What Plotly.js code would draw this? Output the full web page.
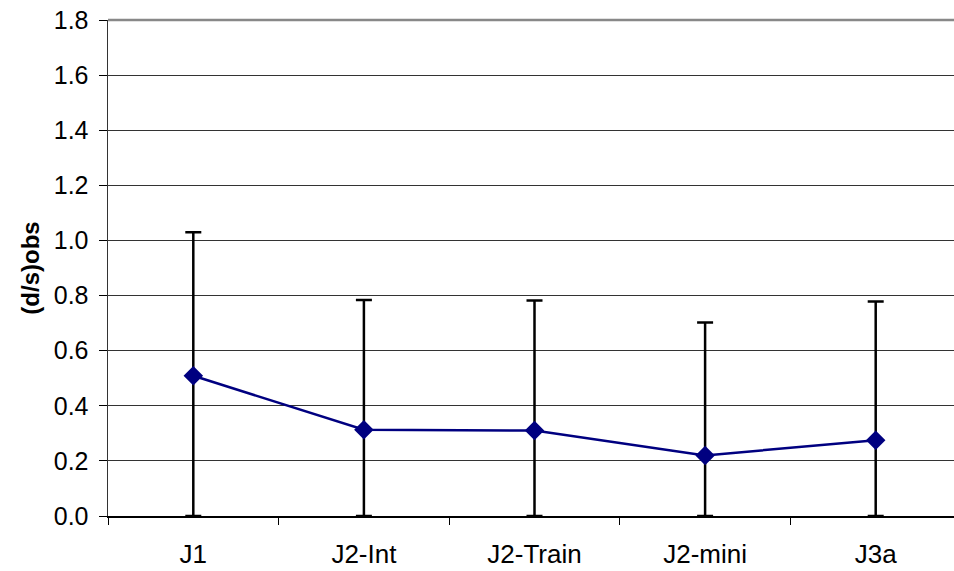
<!DOCTYPE html>
<html>
<head>
<meta charset="utf-8">
<script src="https://cdn.plot.ly/plotly-3.0.1.min.js"></script>
<style>
  html, body { margin: 0; padding: 0; background: #fff; overflow: hidden; }
  #chart { width: 961px; height: 571px; }
</style>
</head>
<body>
<div id="chart"></div>
<script>
// Observed (d/s) per test set, with the upper end of each error bar
const categories = ["J1", "J2-Int", "J2-Train", "J2-mini", "J3a"];
const dsObs = [0.509, 0.313, 0.310, 0.220, 0.275];
const upperBound = [1.030, 0.784, 0.782, 0.702, 0.778];
const yTickValues = [0, 0.2, 0.4, 0.6, 0.8, 1.0, 1.2, 1.4, 1.6, 1.8];

const errPlus = upperBound.map((u, i) => u - dsObs[i]);
const errMinus = dsObs.slice();

const trace = {
  type: "scatter",
  mode: "lines+markers",
  x: categories,
  y: dsObs,
  line: { color: "#000080", width: 2.5 },
  marker: { symbol: "diamond", size: 15, color: "#000080" },
  error_y: {
    type: "data",
    symmetric: false,
    array: errPlus,
    arrayminus: errMinus,
    color: "#000000",
    thickness: 2.5,
    width: 8
  },
  cliponaxis: false,
  showlegend: false
};

const layout = {
  width: 961,
  height: 571,
  margin: { l: 108, r: 0, t: 20, b: 55 },
  paper_bgcolor: "#ffffff",
  plot_bgcolor: "#ffffff",
  font: { family: "Liberation Sans, Arial, sans-serif", size: 25, color: "#000" },
  xaxis: {
    type: "category",
    range: [-0.5, 4.5],
    tickson: "boundaries",
    ticks: "outside",
    ticklen: 7,
    tickcolor: "#000",
    ticklabelstandoff: 14,
    showgrid: false,
    showline: true,
    linecolor: "#000",
    linewidth: 1.5,
    tickfont: { size: 26 },
    zeroline: false
  },
  yaxis: {
    range: [0, 1.8],
    tickvals: yTickValues,
    ticktext: yTickValues.map(v => v.toFixed(1)),
    ticks: "outside",
    ticklen: 8,
    tickcolor: "#000",
    ticklabelstandoff: 5,
    showline: true,
    linecolor: "#333",
    linewidth: 1.5,
    showgrid: true,
    gridcolor: "#333",
    gridwidth: 1,
    zeroline: false,
    tickfont: { size: 25 },
    title: { text: "<b>(d/s)obs</b>", font: { size: 24 }, standoff: 7 }
  },
  shapes: [{
    type: "line", xref: "paper", yref: "paper",
    x0: 0, x1: 1, y0: 1, y1: 1,
    line: { color: "#888", width: 2.5 }
  }]
};

Plotly.newPlot("chart", [trace], layout, { displayModeBar: false, staticPlot: true });
</script>
</body>
</html>
